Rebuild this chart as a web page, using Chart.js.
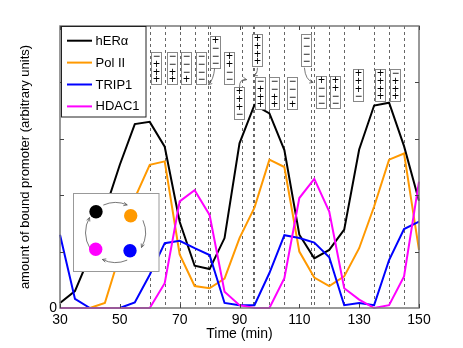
<!DOCTYPE html>
<html>
<head>
<meta charset="utf-8">
<script src="https://cdn.jsdelivr.net/npm/chart.js@4"></script>
<style>
    html, body { margin: 0; padding: 0; background: #fff; }
    #wrap { width: 463px; height: 348px; }
</style>
</head>
<body>
<div id="wrap"><canvas id="promoter"></canvas></div>
<script>
// time points (min)
var times = [30, 35, 40, 45, 50, 55, 60, 65, 70, 75, 80, 85, 90, 95, 100, 105, 110, 115, 120, 125, 130, 135, 140, 145, 150];

// bound promoter
var hERa  = [0.09, 0.3, 0.93, 1.73, 2.54, 3.26, 3.3, 2.86, 1.53, 0.75, 0.69, 1.24, 2.92, 3.6, 3.45, 2.8, 1.3, 0.88, 1.03, 1.39, 2.81, 3.59, 3.64, 2.87, 1.9];
var polII = [0, 0, 0, 0.09, 0.95, 1.95, 2.54, 2.6, 0.95, 0.39, 0.35, 0.52, 1.24, 1.78, 2.63, 2.5, 1.0, 0.54, 0.39, 0.56, 1.06, 1.8, 2.63, 2.74, 1.03];
var trip1 = [1.3, 0.16, 0, 0, 0, 0.1, 0.59, 1.15, 1.19, 1.06, 0.94, 0.09, 0.05, 0.05, 0.62, 1.29, 1.24, 1.16, 0.9, 0.05, 0.09, 0.05, 0.85, 1.4, 1.53];
var hdac1 = [0, 0, 0, 0, 0, 0, 0, 0.44, 1.89, 2.09, 1.65, 0.29, 0.05, 0, 0, 0.53, 1.95, 2.29, 1.71, 0.35, 0.15, 0, 0.05, 0.56, 2.24];

var seriesNames = ["hERα", "Pol II", "TRIP1", "HDAC1"];
var xTickLabels = [30, 50, 70, 90, 110, 130, 150];
var yTickLabels = ["0"];

// dashed marker times
var markTimes = [60, 65, 70, 75, 79.5, 80, 91, 94.5, 95, 100, 105, 114, 115, 120, 125, 135, 140, 145];

// +/- boxes: left edge time, top (in y units), signs top to bottom
var boxTimes = [60.3, 65.6, 70.3, 75.3, 80, 84.7, 88.3, 94.2, 95.3, 100, 106, 110.6, 115.6, 120.2, 127.8, 135.3, 140.2];
var boxTops  = [4.54, 4.54, 4.54, 4.54, 4.83, 4.54, 3.92, 4.85, 4.1, 4.1, 4.1, 4.85, 4.11, 4.11, 4.23, 4.23, 4.23];
var boxSigns = ["−+++", "−−++", "−−−+", "−−−−", "+−−−", "++−−", "+++−", "++++", "−+++", "−−++", "−−−+", "−−−−", "+−−−", "++−−", "+++−", "++++", "−+++"];

var colors = ["#000000", "#ff9900", "#0000ff", "#ff00ff"];
var FONT = "'Liberation Sans', Arial, sans-serif";

function pts(arr) {
    return times.map(function (t, i) { return { x: t, y: arr[i] }; });
}

function arrowHead(ctx, x, y, ang, size) {
    ctx.beginPath();
    ctx.moveTo(x, y);
    ctx.lineTo(x - size * Math.cos(ang - 0.45), y - size * Math.sin(ang - 0.45));
    ctx.moveTo(x, y);
    ctx.lineTo(x - size * Math.cos(ang + 0.45), y - size * Math.sin(ang + 0.45));
    ctx.stroke();
}

// dashed lines behind the curves
var markLines = {
    id: "markLines",
    beforeDatasetsDraw: function (chart) {
        var ctx = chart.ctx, a = chart.chartArea, xs = chart.scales.x;
        ctx.save();
        ctx.strokeStyle = "#666";
        ctx.lineWidth = 1;
        ctx.setLineDash([3, 3]);
        markTimes.forEach(function (t) {
            var x = Math.round(xs.getPixelForValue(t)) + 0.5;
            ctx.beginPath();
            ctx.moveTo(x, a.top);
            ctx.lineTo(x, a.bottom);
            ctx.stroke();
        });
        ctx.restore();
    }
};

// frame, ticks, titles, legend, sign boxes and inset
var decorations = {
    id: "decorations",
    afterDraw: function (chart) {
        var ctx = chart.ctx, a = chart.chartArea;
        var xs = chart.scales.x, ys = chart.scales.y;
        ctx.save();

        // frame
        ctx.strokeStyle = "#777";
        ctx.lineWidth = 1.5;
        ctx.strokeRect(a.left, a.top, a.right - a.left, a.bottom - a.top);

        // inward ticks
        ctx.lineWidth = 1;
        ctx.strokeStyle = "#444";
        for (var v = 1; v < 5; v++) {
            var y = Math.round(ys.getPixelForValue(v)) + 0.5;
            ctx.beginPath();
            ctx.moveTo(a.left, y); ctx.lineTo(a.left + 4, y);
            ctx.moveTo(a.right, y); ctx.lineTo(a.right - 4, y);
            ctx.stroke();
        }
        xTickLabels.forEach(function (t) {
            var x = Math.round(xs.getPixelForValue(t)) + 0.5;
            ctx.beginPath();
            ctx.moveTo(x, a.top); ctx.lineTo(x, a.top + 4);
            ctx.moveTo(x, a.bottom); ctx.lineTo(x, a.bottom - 4);
            ctx.stroke();
        });

        // axis titles
        ctx.fillStyle = "#000";
        ctx.font = "14px " + FONT;
        ctx.textAlign = "center";
        ctx.textBaseline = "middle";
        ctx.fillText("Time (min)", (a.left + a.right) / 2, 334);
        ctx.save();
        ctx.translate(25, (a.top + a.bottom) / 2);
        ctx.rotate(-Math.PI / 2);
        ctx.font = "13px " + FONT;
        ctx.fillText("amount of bound promoter (arbitrary units)", 0, 0);
        ctx.restore();

        // sign boxes
        ctx.font = "12px " + FONT;
        for (var i = 0; i < boxTimes.length; i++) {
            var bx = Math.round(xs.getPixelForValue(boxTimes[i])) + 0.5;
            var by = Math.round(ys.getPixelForValue(boxTops[i])) + 0.5;
            ctx.fillStyle = "#fff";
            ctx.fillRect(bx, by, 10, 32);
            ctx.strokeStyle = "#888";
            ctx.lineWidth = 1;
            ctx.strokeRect(bx, by, 10, 32);
            ctx.fillStyle = "#000";
            for (var k = 0; k < 4; k++) {
                ctx.fillText(boxSigns[i].charAt(k), bx + 5, by + 4.5 + k * 7.7);
            }
        }

        // small curved arrows from the raised boxes
        var arrows = [
            [[81.7, 4.25], [81.3, 4.04], [79.6, 3.96]],
            [[90.0, 3.92], [90.0, 4.07], [92.4, 4.05]],
            [[96.0, 4.26], [96.0, 4.15], [94.8, 4.12]],
            [[111.7, 4.26], [112.0, 4.04], [114.6, 4.0]]
        ];
        ctx.strokeStyle = "#555";
        ctx.lineWidth = 0.8;
        arrows.forEach(function (ar) {
            var p = ar.map(function (q) { return [xs.getPixelForValue(q[0]), ys.getPixelForValue(q[1])]; });
            ctx.beginPath();
            ctx.moveTo(p[0][0], p[0][1]);
            ctx.quadraticCurveTo(p[1][0], p[1][1], p[2][0], p[2][1]);
            ctx.stroke();
            arrowHead(ctx, p[2][0], p[2][1], Math.atan2(p[2][1] - p[1][1], p[2][0] - p[1][0]), 4);
        });

        // legend
        ctx.fillStyle = "#fff";
        ctx.fillRect(61, 26, 85, 91);
        ctx.strokeStyle = "#222";
        ctx.lineWidth = 1;
        ctx.strokeRect(61.5, 26.5, 84.5, 90.5);
        ctx.font = "13px " + FONT;
        ctx.textAlign = "left";
        seriesNames.forEach(function (n, j) {
            var ly = 40.7 + j * 21.9;
            ctx.strokeStyle = colors[j];
            ctx.lineWidth = 2;
            ctx.beginPath();
            ctx.moveTo(67, ly); ctx.lineTo(92, ly);
            ctx.stroke();
            ctx.fillStyle = "#000";
            ctx.fillText(n, 95.5, ly + 0.5);
        });

        // inset: cycle of the four factors
        ctx.fillStyle = "#fff";
        ctx.fillRect(73.5, 193.5, 85.5, 78);
        ctx.strokeStyle = "#999";
        ctx.lineWidth = 1;
        ctx.strokeRect(73.5, 193.5, 85.5, 78);
        var cx = 115.5, cy = 232.5, r = 30;
        ctx.strokeStyle = "#555";
        ctx.lineWidth = 0.8;
        [[-114, -67], [-24, 30], [67, 116], [148, 210]].forEach(function (arc) {
            var s = arc[0] * Math.PI / 180, e = arc[1] * Math.PI / 180;
            ctx.beginPath();
            ctx.arc(cx, cy, r, s, e);
            ctx.stroke();
            var ex = cx + r * Math.cos(e), ey = cy + r * Math.sin(e);
            arrowHead(ctx, ex, ey, e + Math.PI / 2 - 0.15, 4);
        });
        var dots = [[96, 211.7], [130.7, 215.7], [130, 250.7], [95.7, 249.3]];
        dots.forEach(function (d, j) {
            ctx.fillStyle = colors[j];
            ctx.beginPath();
            ctx.arc(d[0], d[1], 6.7, 0, Math.PI * 2);
            ctx.fill();
        });

        ctx.restore();
    }
};

document.addEventListener("DOMContentLoaded", function () {
    var ctx = document.getElementById("promoter").getContext("2d");
    var sets = [hERa, polII, trip1, hdac1];

    new Chart(ctx, {
        type: "line",
        data: {
            datasets: sets.map(function (arr, i) {
                return {
                    label: seriesNames[i],
                    data: pts(arr),
                    borderColor: colors[i],
                    borderWidth: 2,
                    pointRadius: 0,
                    tension: 0,
                    fill: false,
                    clip: 4,
                    order: 4 - i
                };
            })
        },
        options: {
            responsive: true,
            maintainAspectRatio: false,
            animation: false,
            layout: { padding: { left: 0, top: 26, right: 44, bottom: 0 } },
            plugins: {
                legend: { display: false },
                tooltip: { enabled: false }
            },
            scales: {
                x: {
                    type: "linear",
                    min: 30,
                    max: 150,
                    afterFit: function (s) { s.height = 40; },
                    afterBuildTicks: function (s) {
                        s.ticks = xTickLabels.map(function (v) { return { value: v }; });
                    },
                    ticks: {
                        color: "#000",
                        font: { size: 14, family: FONT },
                        padding: 4,
                        maxRotation: 0,
                        autoSkip: false
                    },
                    grid: { display: false, drawTicks: false },
                    border: { display: false }
                },
                y: {
                    min: 0,
                    max: 5,
                    afterFit: function (s) { s.width = 60; },
                    ticks: {
                        stepSize: 1,
                        color: "#000",
                        font: { size: 14, family: FONT },
                        padding: 3,
                        callback: function (v) {
                            return v === 0 ? yTickLabels[0] : "";
                        }
                    },
                    grid: { display: false, drawTicks: false },
                    border: { display: false }
                }
            }
        },
        plugins: [markLines, decorations]
    });
});
</script>
</body>
</html>
